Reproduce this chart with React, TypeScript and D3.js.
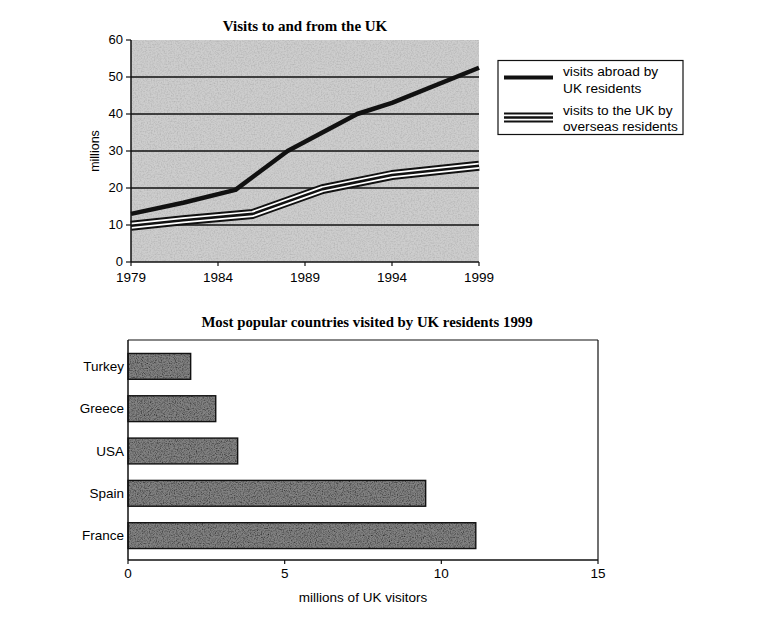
import React from "react";
import * as d3 from "d3";

const abroadYears = [1979, 1982, 1985, 1988, 1992, 1994, 1999];
const abroadValues = [13, 16, 19.5, 30, 40, 43, 52.5];
const toUkYears = [1979, 1982, 1986, 1990, 1994, 1999];
const toUkValues = [9.8, 11.3, 13, 19.7, 23.5, 26];
const yTicks = [0, 10, 20, 30, 40, 50, 60];
const gridValues = [10, 20, 30, 40, 50];
const yearTicks = [1979, 1984, 1989, 1994, 1999];

const countries = ["Turkey", "Greece", "USA", "Spain", "France"];
const visitors = [2, 2.8, 3.5, 9.5, 11.1];
const barTicks = [0, 5, 10, 15];

const SANS = "'Liberation Sans', Arial, sans-serif";
const SERIF = "'Liberation Serif', 'Times New Roman', serif";

export default function App() {
  const x = d3.scaleLinear().domain([1979, 1999]).range([131, 479]);
  const y = d3.scaleLinear().domain([0, 60]).range([262, 40]);
  const abroadLine = d3
    .line<number>()
    .x((_, i) => x(abroadYears[i]))
    .y((d) => y(d));
  const ukLine = d3
    .line<number>()
    .x((_, i) => x(toUkYears[i]))
    .y((d) => y(d));

  const bx = d3.scaleLinear().domain([0, 15]).range([128, 598]);
  const by = d3.scaleBand<string>().domain(countries).range([345, 557]).paddingInner(0.39).paddingOuter(0.2);

  return (
    <svg width={769} height={636} style={{ position: "absolute", left: 0, top: 0, background: "#fff" }}>
      <defs>
        <filter id="speckle" x="0" y="0" width="100%" height="100%">
          <feTurbulence type="fractalNoise" baseFrequency="0.85" numOctaves={2} seed={3} result="noise" />
          <feColorMatrix
            in="noise"
            type="matrix"
            values="0 0 0 0 0  0 0 0 0 0  0 0 0 0 0  0 0 0 1.8 -0.7"
            result="dark"
          />
          <feComposite in="dark" in2="SourceGraphic" operator="in" result="clipped" />
          <feMerge>
            <feMergeNode in="SourceGraphic" />
            <feMergeNode in="clipped" />
          </feMerge>
        </filter>
        <filter id="speckleLight" x="0" y="0" width="100%" height="100%">
          <feTurbulence type="fractalNoise" baseFrequency="0.7" numOctaves={2} seed={7} result="noise" />
          <feColorMatrix
            in="noise"
            type="matrix"
            values="0 0 0 0 0  0 0 0 0 0  0 0 0 0 0  0 0 0 0.5 -0.2"
            result="dark"
          />
          <feComposite in="dark" in2="SourceGraphic" operator="in" result="clipped" />
          <feMerge>
            <feMergeNode in="SourceGraphic" />
            <feMergeNode in="clipped" />
          </feMerge>
        </filter>
      </defs>

      {/* Top chart */}
      <text x={305} y={31} textAnchor="middle" fontFamily={SERIF} fontWeight="bold" fontSize={15}>
        Visits to and from the UK
      </text>
      <rect
        x={x(1979)}
        y={y(60)}
        width={x(1999) - x(1979)}
        height={y(0) - y(60)}
        fill="#cdcdcd"
        filter="url(#speckleLight)"
      />
      {gridValues.map((v) => (
        <line key={v} x1={x(1979)} x2={x(1999)} y1={y(v)} y2={y(v)} stroke="#111" strokeWidth={1.3} />
      ))}
      <path d={ukLine(toUkValues) || ""} fill="none" stroke="#111" strokeWidth={10} strokeLinejoin="round" />
      <path d={ukLine(toUkValues) || ""} fill="none" stroke="#fff" strokeWidth={6} strokeLinejoin="round" />
      <path d={ukLine(toUkValues) || ""} fill="none" stroke="#111" strokeWidth={2.6} strokeLinejoin="round" />
      <path d={abroadLine(abroadValues) || ""} fill="none" stroke="#111" strokeWidth={4.5} strokeLinejoin="round" />
      <line x1={x(1979)} x2={x(1979)} y1={y(60)} y2={y(0)} stroke="#111" strokeWidth={1.5} />
      <line x1={x(1979)} x2={x(1999)} y1={y(0)} y2={y(0)} stroke="#111" strokeWidth={1.5} />
      {yTicks.map((v) => (
        <g key={v}>
          <line x1={x(1979) - 5} x2={x(1979)} y1={y(v)} y2={y(v)} stroke="#111" strokeWidth={1.2} />
          <text x={x(1979) - 8} y={y(v) - 1} dy="0.35em" textAnchor="end" fontFamily={SANS} fontSize={13}>
            {v}
          </text>
        </g>
      ))}
      {yearTicks.map((v) => (
        <g key={v}>
          <line x1={x(v)} x2={x(v)} y1={y(0)} y2={y(0) + 4} stroke="#111" strokeWidth={1.2} />
          <text x={x(v)} y={y(0) + 20} textAnchor="middle" fontFamily={SANS} fontSize={13.5}>
            {v}
          </text>
        </g>
      ))}
      <text
        transform={`translate(99,${(y(0) + y(60)) / 2}) rotate(-90)`}
        textAnchor="middle"
        fontFamily={SANS}
        fontSize={12.5}
      >
        millions
      </text>

      {/* Legend */}
      <rect x={498} y={60.5} width={185} height={74} fill="#fff" stroke="#111" strokeWidth={1.2} />
      <line x1={504} x2={553} y1={77.5} y2={77.5} stroke="#111" strokeWidth={4} />
      <line x1={504} x2={553} y1={117.5} y2={117.5} stroke="#111" strokeWidth={10} />
      <line x1={504} x2={553} y1={117.5} y2={117.5} stroke="#fff" strokeWidth={6} />
      <line x1={504} x2={553} y1={117.5} y2={117.5} stroke="#111" strokeWidth={2.6} />
      <text fontFamily={SANS} fontSize={13.7}>
        <tspan x={563} y={76}>visits abroad by</tspan>
        <tspan x={563} y={92.5}>UK residents</tspan>
        <tspan x={563} y={115}>visits to the UK by</tspan>
        <tspan x={563} y={131}>overseas residents</tspan>
      </text>

      {/* Bottom chart */}
      <text x={367} y={327} textAnchor="middle" fontFamily={SERIF} fontWeight="bold" fontSize={14.8}>
        Most popular countries visited by UK residents 1999
      </text>
      <line x1={bx(0)} x2={bx(15)} y1={340} y2={340} stroke="#111" strokeWidth={1.2} />
      <line x1={bx(15)} x2={bx(15)} y1={340} y2={560} stroke="#111" strokeWidth={1.2} />
      {countries.map((c, i) => (
        <g key={c}>
          <rect
            x={bx(0)}
            y={by(c)}
            width={bx(visitors[i]) - bx(0)}
            height={by.bandwidth()}
            fill="#828282"
            filter="url(#speckle)"
          />
          <rect
            x={bx(0)}
            y={by(c)}
            width={bx(visitors[i]) - bx(0)}
            height={by.bandwidth()}
            fill="none"
            stroke="#111"
            strokeWidth={1.4}
          />
          <text
            x={bx(0) - 4}
            y={(by(c) || 0) + by.bandwidth() / 2}
            dy="0.35em"
            textAnchor="end"
            fontFamily={SANS}
            fontSize={13.5}
          >
            {c}
          </text>
        </g>
      ))}
      <line x1={bx(0)} x2={bx(0)} y1={340} y2={560} stroke="#111" strokeWidth={1.5} />
      <line x1={bx(0)} x2={bx(15)} y1={560} y2={560} stroke="#111" strokeWidth={1.5} />
      {barTicks.map((v) => (
        <g key={v}>
          <line x1={bx(v)} x2={bx(v)} y1={560} y2={564} stroke="#111" strokeWidth={1.2} />
          <text x={bx(v)} y={578} textAnchor="middle" fontFamily={SANS} fontSize={13.5}>
            {v}
          </text>
        </g>
      ))}
      <text x={363} y={602} textAnchor="middle" fontFamily={SANS} fontSize={13.5}>
        millions of UK visitors
      </text>
    </svg>
  );
}
